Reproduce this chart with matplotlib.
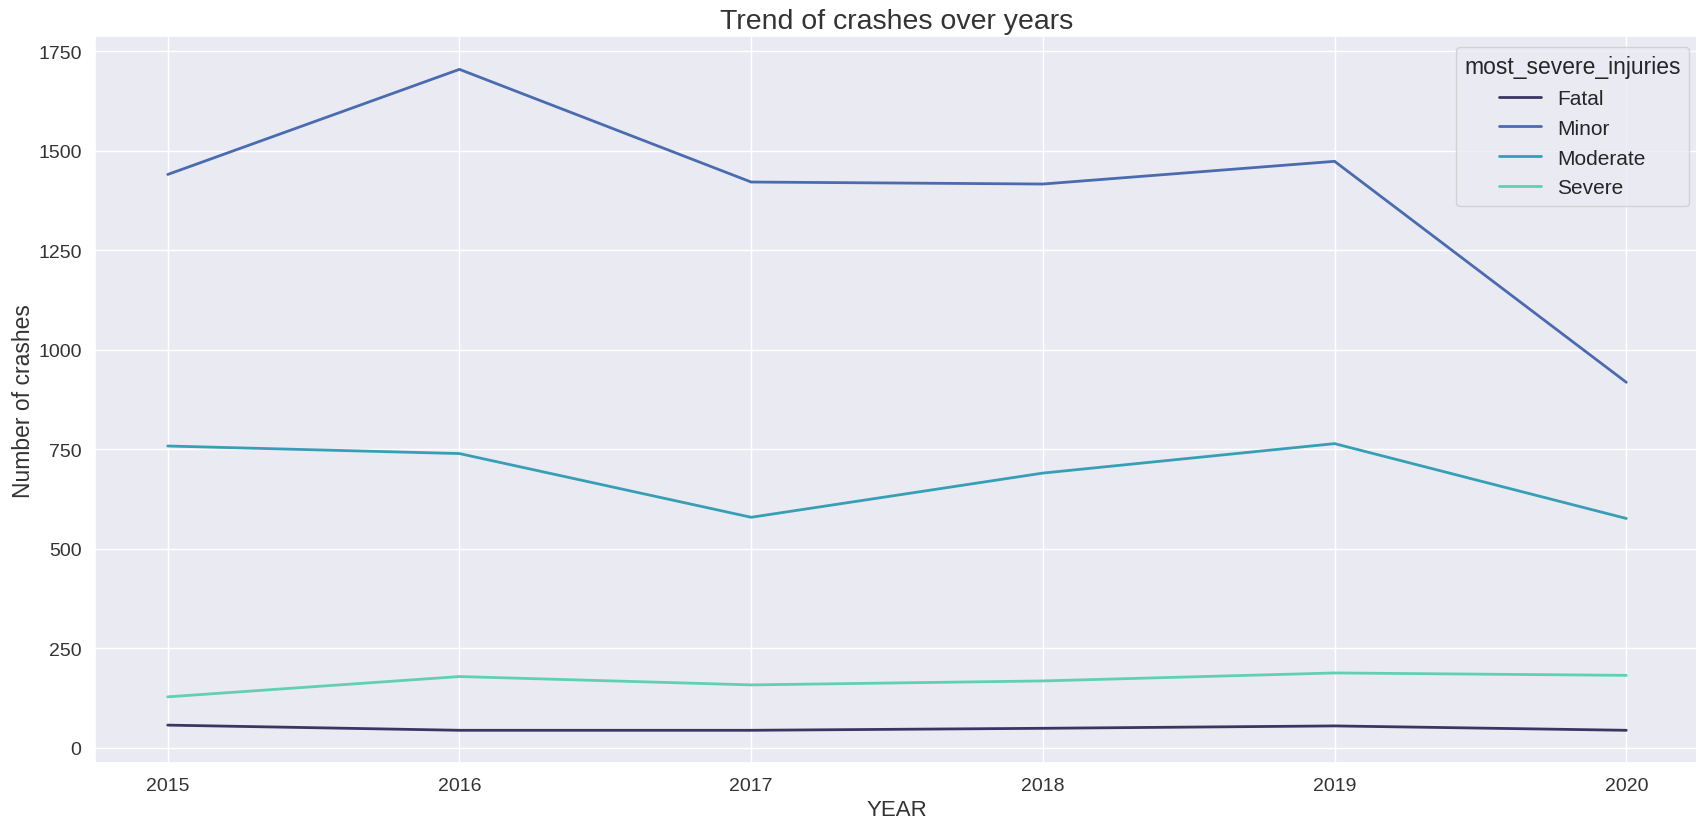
import matplotlib
matplotlib.use("Agg")
import matplotlib.pyplot as plt
import seaborn as sns
import pandas as pd

years = [2015, 2016, 2017, 2018, 2019, 2020]
fatal = [57, 44, 44, 49, 55, 44]
minor = [1440, 1704, 1421, 1416, 1473, 918]
moderate = [758, 739, 579, 690, 764, 576]
severe = [128, 179, 158, 168, 188, 182]
categories = ["Fatal", "Minor", "Moderate", "Severe"]
colors = ["#3b3563", "#4a6bb0", "#379fb5", "#60d0b0"]

df = pd.DataFrame({
    "YEAR": years * 4,
    "count": fatal + minor + moderate + severe,
    "most_severe_injuries": [c for c in categories for _ in years],
})

sns.set_theme(style="darkgrid")
plt.rcParams["font.family"] = ["Liberation Sans", "DejaVu Sans"]

fig = plt.figure(figsize=(16.96, 8.29), dpi=100)
ax = fig.add_axes([0.0559, 0.078, 0.946, 0.877])
sns.lineplot(data=df, x="YEAR", y="count", hue="most_severe_injuries",
             hue_order=categories, palette=colors, linewidth=2, ax=ax)

ax.set_title("Trend of crashes over years", fontsize=20.5, color="#333333")
ax.set_xlabel("YEAR", fontsize=16, color="#333333")
ax.set_ylabel("Number of crashes", fontsize=16.5, color="#333333", labelpad=2)
ax.tick_params(labelsize=14, colors="#333333")
ax.set_yticks([0, 250, 500, 750, 1000, 1250, 1500, 1750])
leg = ax.legend(title="most_severe_injuries", fontsize=15, title_fontsize=16.5,
                loc="upper right", labelspacing=0.52)

fig.savefig("out.png", dpi=100)
